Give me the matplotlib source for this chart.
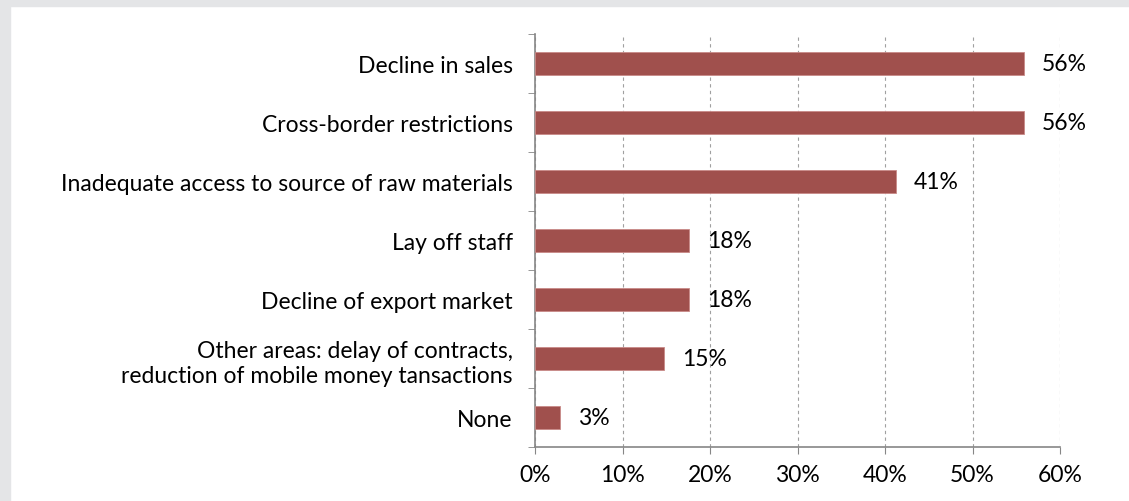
import matplotlib.pyplot as plt
from matplotlib.patches import Rectangle
import numpy as np

plt.rcParams['font.family'] = ['Lato', 'DejaVu Sans']

categories = ['Decline in sales', 'Cross-border restrictions',
              'Inadequate access to source of raw materials', 'Lay off staff',
              'Decline of export market',
              'Other areas: delay of contracts,\nreduction of mobile money tansactions',
              'None']
values = [55.9, 55.9, 41.2, 17.6, 17.6, 14.7, 2.9]
value_labels = ['56%', '56%', '41%', '18%', '18%', '15%', '3%']
xticks = [0, 10, 20, 30, 40, 50, 60]

fs = 16.5
fig = plt.figure(figsize=(11.29, 5.02), dpi=100)
# grey frame at top and left
fig.patches.append(Rectangle((0, 0), 10/1129, 1, transform=fig.transFigure,
                             color='#E4E5E7', zorder=0))
fig.patches.append(Rectangle((0, 1-7/502), 1, 7/502, transform=fig.transFigure,
                             color='#E4E5E7', zorder=0))

ax = fig.add_axes([535/1129, 1-448/502, 525/1129, 413/502])
y = np.arange(len(categories))
ax.barh(y, values, height=0.4, color='#A0504D', edgecolor='#C98A88', linewidth=0.6, zorder=3)
for yi, v, lab in zip(y, values, value_labels):
    ax.annotate(lab, (v, yi), xytext=(13, 0), textcoords='offset points',
                va='center', ha='left', fontsize=fs, color='black', zorder=4)

ax.set_ylim(len(categories)-0.5, -0.5)
ax.set_xlim(0, 60)
ax.set_xticks(xticks)
ax.set_xticklabels([f'{t}%' for t in xticks], fontsize=fs)
ax.set_yticks(y)
ax.set_yticklabels(categories, fontsize=fs, ha='right', linespacing=1.25)
ax.set_yticks(np.arange(-0.5, len(categories)), minor=True)
ax.tick_params(axis='y', which='major', length=0, pad=16)
ax.tick_params(axis='y', which='minor', length=5, color='#868686', direction='out')
ax.tick_params(axis='x', length=5, color='#868686', pad=7)
ax.xaxis.grid(True, linestyle=(0, (3, 3)), color='#A0A0A0', linewidth=0.8, zorder=0)
for s in ['top', 'right']:
    ax.spines[s].set_visible(False)
for s in ['left', 'bottom']:
    ax.spines[s].set_color('#868686')
    ax.spines[s].set_linewidth(1.2)

fig.savefig('out.png', dpi=100)
